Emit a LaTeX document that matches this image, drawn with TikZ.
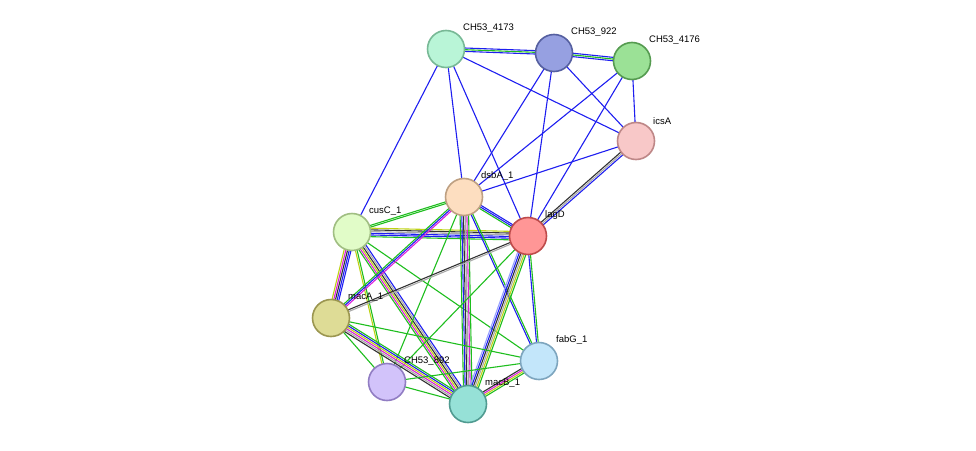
\documentclass[tikz,border=0pt]{standalone}
\usepackage{fontspec}
\setmainfont{Liberation Sans}
\usetikzlibrary{calc,backgrounds}
\definecolor{eg}{RGB}{30,190,30}
\definecolor{eb}{RGB}{30,30,240}
\definecolor{ey}{RGB}{190,210,20}
\definecolor{em}{RGB}{220,30,220}
\definecolor{ek}{RGB}{50,50,50}
\definecolor{ea}{RGB}{170,170,170}
\definecolor{el}{RGB}{150,160,255}
\newcommand\myedge[3]{%
  \foreach \c [count=\i] in {#3}{%
    \pgfmathsetmacro\off{(\i-(#1+1)/2)*1.7}
    \draw[\c,line width=1.1pt] ($(#2)!\off pt!90:(#2b)$) -- ($(#2b)!\off pt!-90:(#2)$);
  }}
\newcommand\E[4]{%
  \foreach \c [count=\i] in {#4}{%
    \pgfmathsetmacro\off{(\i-(#1+1)/2)*1.7}
    \draw[\c,line width=1.1pt] ($(#2.center)!\off pt!90:(#3.center)$) -- ($(#3.center)!\off pt!-90:(#2.center)$);
  }}
\tikzset{
  prot/.style={circle,minimum size=37pt,inner sep=0pt,line width=1.6pt},
  lab/.style={font=\fontsize{9.5pt}{10pt}\selectfont,anchor=south west,inner sep=1pt}
}
\begin{document}
\begin{tikzpicture}[x=1pt,y=-1pt]
\useasboundingbox (0,0) rectangle (976,450);
\node[prot,fill={rgb,255:red,185;green,245;blue,215},draw={rgb,255:red,120;green,185;blue,150}] (n4173) at (446,49) {};
\node[prot,fill={rgb,255:red,150;green,160;blue,225},draw={rgb,255:red,85;green,95;blue,160}] (n922) at (554,53) {};
\node[prot,fill={rgb,255:red,155;green,225;blue,150},draw={rgb,255:red,85;green,155;blue,80}] (n4176) at (632,61) {};
\node[prot,fill={rgb,255:red,248;green,200;blue,200},draw={rgb,255:red,190;green,135;blue,135}] (icsA) at (636,141) {};
\node[prot,fill={rgb,255:red,253;green,222;blue,192},draw={rgb,255:red,190;green,160;blue,130}] (dsbA) at (464,197) {};
\node[prot,fill={rgb,255:red,255;green,150;blue,150},draw={rgb,255:red,190;green,75;blue,75}] (lagD) at (528,236) {};
\node[prot,fill={rgb,255:red,225;green,252;blue,200},draw={rgb,255:red,160;green,190;blue,130}] (cusC) at (352,232) {};
\node[prot,fill={rgb,255:red,222;green,220;blue,150},draw={rgb,255:red,155;green,150;blue,80}] (macA) at (331,318) {};
\node[prot,fill={rgb,255:red,195;green,230;blue,250},draw={rgb,255:red,125;green,165;blue,190}] (fabG) at (539,361) {};
\node[prot,fill={rgb,255:red,210;green,195;blue,250},draw={rgb,255:red,145;green,125;blue,195}] (n892) at (387,382) {};
\node[prot,fill={rgb,255:red,150;green,225;blue,215},draw={rgb,255:red,80;green,155;blue,145}] (macB) at (468,404) {};
\node[lab] at (462,34) {CH53\_4173};
\node[lab] at (570,38) {CH53\_922};
\node[lab] at (648,46) {CH53\_4176};
\node[lab] at (652,126) {icsA};
\node[lab] at (480,182) {dsbA\_1};
\node[lab] at (544,221) {lagD};
\node[lab] at (368,217) {cusC\_1};
\node[lab] at (347,303) {macA\_1};
\node[lab] at (555,346) {fabG\_1};
\node[lab] at (403,367) {CH53\_892};
\node[lab] at (484,389) {macB\_1};
\begin{pgfonlayer}{background}
\E{3}{n4173}{n922}{eb,eg,eb}
\E{3}{n922}{n4176}{eb,eg,eb}
\E{1}{n4173}{icsA}{eb}
\E{1}{n4173}{cusC}{eb}
\E{1}{n4173}{dsbA}{eb}
\E{1}{n4173}{lagD}{eb}
\E{1}{n922}{dsbA}{eb}
\E{1}{n922}{lagD}{eb}
\E{1}{n922}{icsA}{eb}
\E{1}{n4176}{dsbA}{eb}
\E{1}{n4176}{lagD}{eb}
\E{1}{n4176}{icsA}{eb}
\E{1}{icsA}{dsbA}{eb}
\E{3}{icsA}{lagD}{ek,ea,eb}
\E{2}{cusC}{dsbA}{eg,eg}
\E{6}{cusC}{lagD}{eg,eb,eb,ea,ek,ey}
\E{5}{cusC}{macA}{ey,em,ek,eb,eb}
\E{2}{cusC}{n892}{ey,eg}
\E{6}{cusC}{macB}{eg,em,ey,ek,ea,eb}
\E{1}{cusC}{fabG}{eg}
\E{3}{dsbA}{lagD}{eg,eb,eb}
\E{3}{dsbA}{macA}{eg,eb,em}
\E{1}{dsbA}{n892}{eg}
\E{6}{dsbA}{macB}{eg,eb,ek,ea,em,eg}
\E{2}{dsbA}{fabG}{eb,eg}
\E{2}{lagD}{macA}{ek,ea}
\E{1}{lagD}{n892}{eg}
\E{6}{lagD}{macB}{el,eb,ek,ea,ey,eg}
\E{2}{lagD}{fabG}{eb,eg}
\E{1}{macA}{n892}{eg}
\E{6}{macA}{macB}{ek,ea,em,ey,eb,eg}
\E{1}{macA}{fabG}{eg}
\E{1}{n892}{macB}{eg}
\E{1}{n892}{fabG}{eg}
\E{4}{macB}{fabG}{eg,ey,em,ek}
\end{pgfonlayer}
\end{tikzpicture}
\end{document}
